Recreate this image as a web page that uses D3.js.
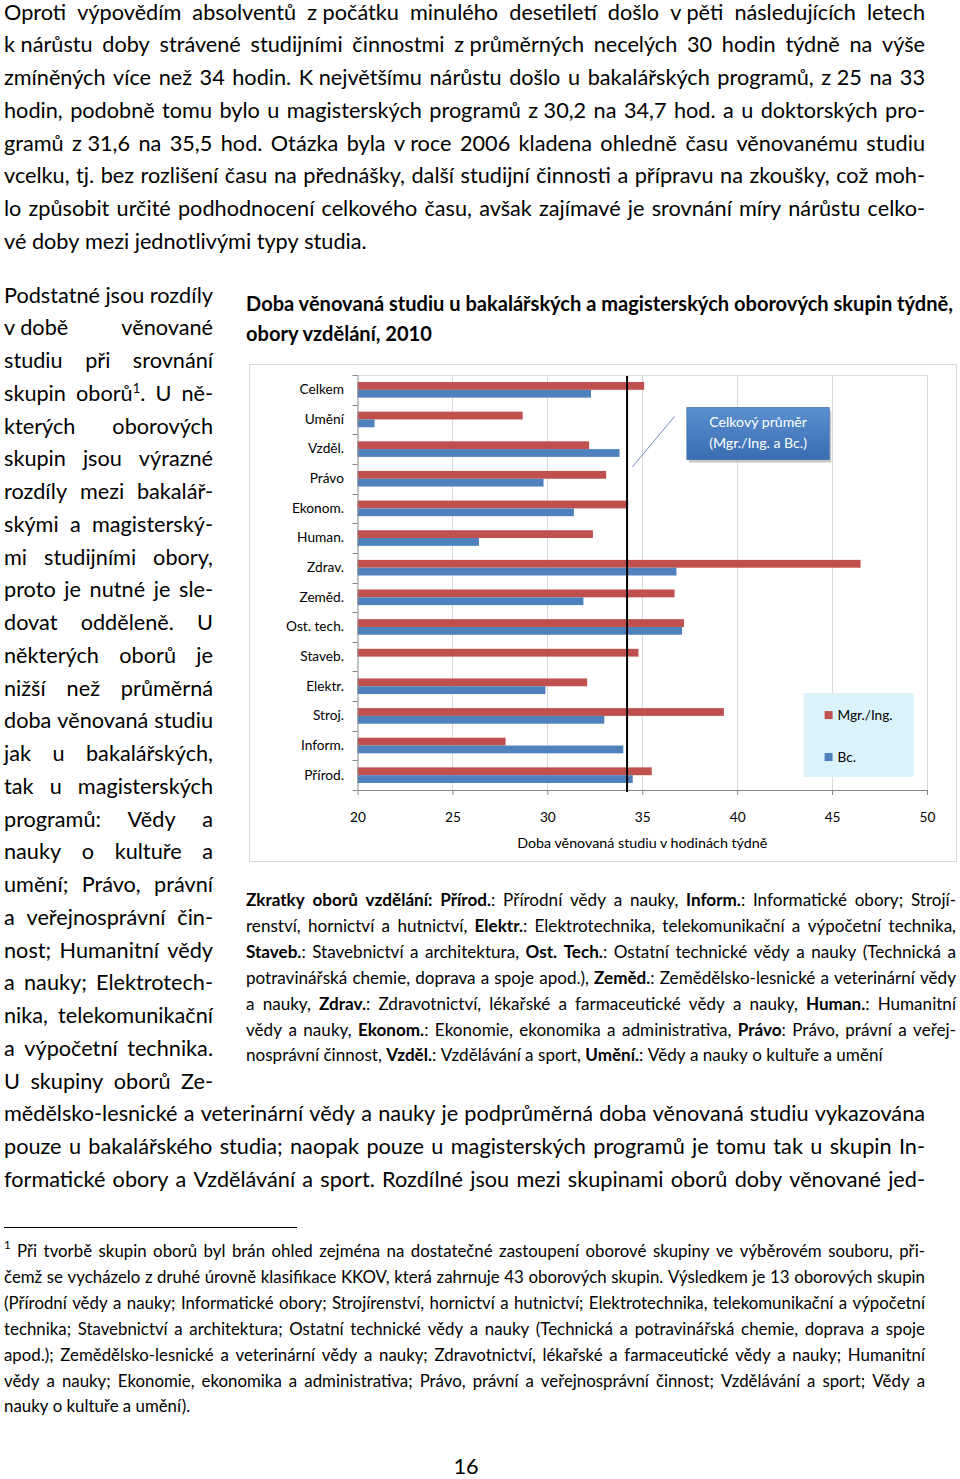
<!DOCTYPE html>
<html><head><meta charset="utf-8">
<script src="https://cdn.jsdelivr.net/npm/d3@7"></script>
<style>
html,body{margin:0;padding:0;background:#fff;}
svg{display:block;}
</style></head><body>
<svg id="page" width="960" height="1479"></svg>
<script>
// ---------------- DATA ----------------
const categories = ["Celkem","Umění","Vzděl.","Právo","Ekonom.","Human.","Zdrav.","Zeměd.","Ost. tech.","Staveb.","Elektr.","Stroj.","Inform.","Přírod."];
const mgrValues  = [35.1, 28.7, 32.2, 33.1, 34.2, 32.4, 46.5, 36.7, 37.2, 34.8, 32.1, 39.3, 27.8, 35.5];
const bcValues   = [32.3, 20.9, 33.8, 29.8, 31.4, 26.4, 36.8, 31.9, 37.1, null, 29.9, 33.0, 34.0, 34.5];
const overallMean = 34.2;
const seriesNames = ["Mgr./Ing.", "Bc."];
const xTicks = [20, 25, 30, 35, 40, 45, 50];
const chartTitle = ["Doba věnovaná studiu u bakalářských a magisterských oborových skupin týdně,", "obory vzdělání, 2010"];
const axisTitle = "Doba věnovaná studiu v hodinách týdně";
const calloutText = ["Celkový průměr", "(Mgr./Ing. a Bc.)"];

const para1 = [
 "Oproti výpovědím absolventů z počátku minulého desetiletí došlo v pěti následujících letech",
 "k nárůstu doby strávené studijními činnostmi z průměrných necelých 30 hodin týdně na výše",
 "zmíněných více než 34 hodin. K největšímu nárůstu došlo u bakalářských programů, z 25 na 33",
 "hodin, podobně tomu bylo u magisterských programů z 30,2 na 34,7 hod. a u doktorských pro-",
 "gramů z 31,6 na 35,5 hod. Otázka byla v roce 2006 kladena ohledně času věnovanému studiu",
 "vcelku, tj. bez rozlišení času na přednášky, další studijní činnosti a přípravu na zkoušky, což moh-",
 "lo způsobit určité podhodnocení celkového času, avšak zajímavé je srovnání míry nárůstu celko-",
 "vé doby mezi jednotlivými typy studia."
];
const leftColumn = [
 "Podstatné jsou rozdíly", "v době věnované", "studiu při srovnání", "skupin oborů^{1}. U ně-",
 "kterých oborových", "skupin jsou výrazné", "rozdíly mezi bakalář-", "skými a magisterský-",
 "mi studijními obory,", "proto je nutné je sle-", "dovat odděleně. U", "některých oborů je",
 "nižší než průměrná", "doba věnovaná studiu", "jak u bakalářských,", "tak u magisterských",
 "programů: Vědy a", "nauky o kultuře a", "umění; Právo, právní", "a veřejnosprávní čin-",
 "nost; Humanitní vědy", "a nauky; Elektrotech-", "nika, telekomunikační", "a výpočetní technika.",
 "U skupiny oborů Ze-"
];
const para2 = [
 "mědělsko-lesnické a veterinární vědy a nauky je podprůměrná doba věnovaná studiu vykazována",
 "pouze u bakalářského studia; naopak pouze u magisterských programů je tomu tak u skupin In-",
 "formatické obory a Vzdělávání a sport. Rozdílné jsou mezi skupinami oborů doby věnované jed-"
];
const abbreviations = [
 "**Zkratky oborů vzdělání: Přírod.**: Přírodní vědy a nauky, **Inform.**: Informatické obory; Strojí-",
 "renství, hornictví a hutnictví, **Elektr.**: Elektrotechnika, telekomunikační a výpočetní technika,",
 "**Staveb.**: Stavebnictví a architektura, **Ost. Tech.**: Ostatní technické vědy a nauky (Technická a",
 "potravinářská chemie, doprava a spoje apod.), **Zeměd.**: Zemědělsko-lesnické a veterinární vědy",
 "a nauky, **Zdrav.**: Zdravotnictví, lékařské a farmaceutické vědy a nauky, **Human.**: Humanitní",
 "vědy a nauky, **Ekonom.**: Ekonomie, ekonomika a administrativa, **Právo**: Právo, právní a veřej-",
 "nosprávní činnost, **Vzděl.**: Vzdělávání a sport, **Umění.**: Vědy a nauky o kultuře a umění"
];
const footnote = [
 "Při tvorbě skupin oborů byl brán ohled zejména na dostatečné zastoupení oborové skupiny ve výběrovém souboru, při-",
 "čemž se vycházelo z druhé úrovně klasifikace KKOV, která zahrnuje 43 oborových skupin. Výsledkem je 13 oborových skupin",
 "(Přírodní vědy a nauky; Informatické obory; Strojírenství, hornictví a hutnictví; Elektrotechnika, telekomunikační a výpočetní",
 "technika; Stavebnictví a architektura; Ostatní technické vědy a nauky (Technická a potravinářská chemie, doprava a spoje",
 "apod.); Zemědělsko-lesnické a veterinární vědy a nauky; Zdravotnictví, lékařské a farmaceutické vědy a nauky; Humanitní",
 "vědy a nauky; Ekonomie, ekonomika a administrativa; Právo, právní a veřejnosprávní činnost; Vzdělávání a sport; Vědy a",
 "nauky o kultuře a umění)."
];
const footnoteMark = "1";
const pageNumber = "16";

// ---------------- TEXT HELPERS ----------------
const FONT = "Lato, 'Open Sans', sans-serif";
const svg = d3.select("#page");

function nb(line){ return line.replace(/(^|\s)([kzvsKZVS]) /g, "$1$2\u00a0"); }
function parse(line){
  line = nb(line);
  const pieces = []; let bold = false, buf = "", i = 0;
  while (i < line.length){
    if (line.startsWith("**", i)){ if (buf){pieces.push({t:buf,b:bold}); buf="";} bold=!bold; i+=2; continue; }
    if (line.startsWith("^{", i)){ if (buf){pieces.push({t:buf,b:bold}); buf="";} const j=line.indexOf("}", i); pieces.push({t:line.slice(i+2,j), b:bold, sup:true}); i=j+1; continue; }
    buf += line[i]; i++;
  }
  if (buf) pieces.push({t:buf,b:bold});
  const words = [[]];
  pieces.forEach(p => {
    p.t.split(" ").forEach((s,k) => { if (k>0) words.push([]); if (s) words[words.length-1].push({...p, t:s}); });
  });
  return words.filter(w => w.length);
}
function makeWord(g, pieces, size, weight){
  const t = g.append("text").attr("font-family", FONT).attr("font-size", size).attr("fill", "#000");
  pieces.forEach(p => {
    const ts = t.append("tspan").text(p.t).attr("font-weight", p.b ? 700 : weight);
    if (p.sup) ts.attr("font-size", size*0.6).attr("baseline-shift", "super");
  });
  return t;
}
function spaceWidth(size, weight){
  const g = svg.append("g");
  const a = g.append("text").attr("font-family",FONT).attr("font-size",size).attr("font-weight",weight).text("x x");
  const b = g.append("text").attr("font-family",FONT).attr("font-size",size).attr("font-weight",weight).text("xx");
  const w = a.node().getComputedTextLength() - b.node().getComputedTextLength();
  g.remove(); return w;
}
function naturalWidth(line, size, weight){
  const g = svg.append("g");
  const words = parse(line);
  const tot = d3.sum(words.map(w => makeWord(g, w, size, weight).node().getComputedTextLength()));
  g.remove();
  return tot + spaceWidth(size, weight)*(words.length-1);
}
function fitSize(line, target, weight){ return 20 * target / naturalWidth(line, 20, weight||400); }
// size: calibrated on the final line, but never so large that a justified line overflows
function blockSize(lines, o, calibrated){
  let s = calibrated;
  lines.forEach((l,i) => {
    const justify = o.justifyLast || i < lines.length - 1;
    if (!justify) return;
    const x0 = (i === 0 && o.firstX0 != null) ? o.firstX0 : o.x0;
    s = Math.min(s, fitSize(l, (o.x1 - x0)*0.995, o.weight));
  });
  return s;
}
function drawLine(g, line, x0, x1, y, size, justify, weight){
  weight = weight || 400;
  const words = parse(line);
  const nodes = words.map(w => makeWord(g, w, size, weight).attr("y", y));
  const widths = nodes.map(n => n.node().getComputedTextLength());
  const sp = spaceWidth(size, weight);
  const total = d3.sum(widths), n = words.length;
  let gap = sp, k = 1;
  if (justify && n > 1){
    gap = (x1 - x0 - total)/(n-1);
    if (gap < sp*0.7){ gap = sp*0.7; k = (x1 - x0 - gap*(n-1))/total; }
  }
  let x = x0;
  nodes.forEach((nd,i) => {
    nd.attr("x", x);
    if (k < 1) nd.attr("textLength", widths[i]*k).attr("lengthAdjust", "spacingAndGlyphs");
    x += widths[i]*k + gap;
  });
}
function drawBlock(lines, o){
  const g = svg.append("g");
  lines.forEach((line, i) => {
    const justify = o.justifyLast || i < lines.length - 1;
    const x0 = (i === 0 && o.firstX0 != null) ? o.firstX0 : o.x0;
    drawLine(g, line, x0, o.x1, o.y0 + i*o.dy, o.size, justify, o.weight);
  });
  return g;
}

// ---------------- BODY TEXT ----------------
const p1o = {x0:4, x1:925, y0:19.5, dy:32.75};
const bodySize = blockSize(para1, p1o, fitSize(para1[para1.length-1], 363));
drawBlock(para1, {...p1o, size:bodySize});
drawBlock(leftColumn, {x0:4, x1:213, y0:302.5, dy:32.75, size:bodySize, justifyLast:true});
drawBlock(para2, {x0:4, x1:925, y0:302.5 + 25*32.75, dy:32.75, size:bodySize, justifyLast:true});

// chart title
const titleSize = fitSize(chartTitle[0], 708, 700);
chartTitle.forEach((t,i) => svg.append("text").attr("x",246).attr("y",311 + i*30)
  .attr("font-family",FONT).attr("font-weight",700).attr("font-size",titleSize).text(t));

// abbreviations
const abo = {x0:246, x1:956, y0:906, dy:25.9};
const abbrSize = blockSize(abbreviations, abo, fitSize(abbreviations[abbreviations.length-1], 637));
drawBlock(abbreviations, {...abo, size:abbrSize});

// footnote
svg.append("line").attr("x1",4).attr("x2",297).attr("y1",1227.5).attr("y2",1227.5).attr("stroke","#000").attr("stroke-width",1);
const fno = {x0:4, firstX0:17, x1:925, y0:1257, dy:25.9};
const fnSize = blockSize(footnote, fno, fitSize(footnote[footnote.length-1], 193));
svg.append("text").attr("x",4).attr("y",1249).attr("font-family",FONT).attr("font-size",fnSize*0.68).text(footnoteMark);
drawBlock(footnote, {...fno, size:fnSize});

// page number
svg.append("text").attr("x",466).attr("y",1474).attr("text-anchor","middle")
  .attr("font-family",FONT).attr("font-size",bodySize).text(pageNumber);

// ---------------- CHART ----------------
const frame = {left:249.5, top:364.5, right:956.5, bottom:861.5};
const plot = {left:357.5, right:927, top:375, bottom:790};
const cg = svg.append("g").attr("class","chart");

cg.append("rect").attr("x",frame.left).attr("y",frame.top)
  .attr("width",frame.right-frame.left).attr("height",frame.bottom-frame.top)
  .attr("fill","#fff").attr("stroke","#d9d9d9").attr("stroke-width",1);

const x = d3.scaleLinear().domain([xTicks[0], xTicks[xTicks.length-1]]).range([plot.left, plot.right]);
const y0 = d3.scaleBand().domain(categories).range([plot.top, plot.bottom]);
const y1 = d3.scaleBand().domain(seriesNames).range([0, y0.bandwidth()]).paddingInner(0).paddingOuter(0.9);
const colors = d3.scaleOrdinal().domain(seriesNames).range(["#C0504D", "#4F81BD"]);

const labelSize = fitSize("Ost. tech.", 58);

// gridlines
cg.append("g").selectAll("line").data(xTicks.slice(1)).join("line")
  .attr("x1", d => Math.round(x(d))+0.5).attr("x2", d => Math.round(x(d))+0.5)
  .attr("y1", plot.top).attr("y2", plot.bottom)
  .attr("stroke", "#d9d9d9").attr("stroke-width", 1);
cg.append("line").attr("x1",plot.left).attr("x2",plot.right).attr("y1",plot.top+0.5).attr("y2",plot.top+0.5)
  .attr("stroke","#d9d9d9");

// bars
const rows = categories.map((c,i) => ({c, vals: [
  {s: seriesNames[0], v: mgrValues[i]}, {s: seriesNames[1], v: bcValues[i]}]}));
const rowG = cg.append("g").selectAll("g").data(rows).join("g")
  .attr("transform", d => `translate(0,${y0(d.c)})`);
rowG.selectAll("rect").data(d => d.vals.filter(v => v.v != null)).join("rect")
  .attr("x", x(xTicks[0])).attr("y", d => y1(d.s))
  .attr("width", d => x(d.v) - x(xTicks[0])).attr("height", y1.bandwidth())
  .attr("fill", d => colors(d.s));

// left axis
const axL = cg.append("g").attr("transform", `translate(${plot.left},0)`)
  .call(d3.axisLeft(y0).tickSize(0).tickPadding(13.5));
axL.select(".domain").attr("stroke","#868686");
axL.selectAll("text").attr("font-family",FONT).attr("font-size",labelSize).attr("fill","#000");
cg.append("g").selectAll("line").data(categories.map(c => y0(c)).concat([plot.bottom])).join("line")
  .attr("x1", plot.left-5).attr("x2", plot.left).attr("y1", d => Math.round(d)+0.5).attr("y2", d => Math.round(d)+0.5)
  .attr("stroke","#868686");

// bottom axis
const axB = cg.append("g").attr("transform", `translate(0,${plot.bottom})`)
  .call(d3.axisBottom(x).tickValues(xTicks).tickSize(5).tickPadding(17).tickSizeOuter(0));
axB.select(".domain").attr("stroke","#868686");
axB.selectAll(".tick line").attr("stroke","#868686");
axB.selectAll("text").attr("font-family",FONT).attr("font-size",labelSize).attr("fill","#000");

// axis title
const axisTitleSize = fitSize(axisTitle, 251);
cg.append("text").attr("x",(plot.left+plot.right)/2).attr("y",848).attr("text-anchor","middle")
  .attr("font-family",FONT).attr("font-size",axisTitleSize).text(axisTitle);

// mean line
cg.append("line").attr("x1",x(overallMean)).attr("x2",x(overallMean))
  .attr("y1",plot.top+1).attr("y2",plot.bottom+2).attr("stroke","#000").attr("stroke-width",2);

// callout (positioned in data space)
const defs = svg.append("defs");
const grad = defs.append("linearGradient").attr("id","cg").attr("x1",0).attr("x2",0).attr("y1",0).attr("y2",1);
grad.append("stop").attr("offset","0%").attr("stop-color","#5a8fd0");
grad.append("stop").attr("offset","100%").attr("stop-color","#3a6db0");
const cbx0 = x(37.35), cbx1 = x(44.85);
const cby0 = y0("Umění") + y0.bandwidth()*0.1, cby1 = y0("Vzděl.") + y0.bandwidth()*0.85;
cg.append("rect").attr("x",cbx0+2).attr("y",cby0+3).attr("width",cbx1-cbx0).attr("height",cby1-cby0)
  .attr("fill","#a0a0a0").attr("opacity",0.6);
cg.append("rect").attr("x",cbx0).attr("y",cby0).attr("width",cbx1-cbx0).attr("height",cby1-cby0)
  .attr("fill","url(#cg)").attr("stroke","#4472a8").attr("stroke-width",0.8);
const calloutSize = fitSize(calloutText[0], 98);
calloutText.forEach((t,i) => cg.append("text").attr("x",(cbx0+cbx1)/2).attr("y",cby0 + 19 + i*21)
  .attr("text-anchor","middle").attr("font-family",FONT).attr("font-size",calloutSize).attr("fill","#fff").text(t));
cg.append("line").attr("x1",x(34.48)).attr("y1",y0("Právo")+y0.bandwidth()*0.1)
  .attr("x2",x(36.7)).attr("y2",y0("Umění")+y0.bandwidth()*0.4)
  .attr("stroke","#6f8cba").attr("stroke-width",1);

// legend
const legX0 = x(43.5), legX1 = x(49.3);
const legY0 = y0("Elektr.") + y0.bandwidth()*0.73, legY1 = y0("Přírod.") + y0.bandwidth()*0.56;
cg.append("rect").attr("x",legX0).attr("y",legY0).attr("width",legX1-legX0).attr("height",legY1-legY0).attr("fill","#daf3fb");
const legSize = fitSize(seriesNames[0], 55);
seriesNames.forEach((s,i) => {
  const yy = legY0 + 22 + i*42;
  cg.append("rect").attr("x",legX0+21).attr("y",yy-4).attr("width",8).attr("height",8).attr("fill",colors(s));
  cg.append("text").attr("x",legX0+34).attr("y",yy+5).attr("font-family",FONT).attr("font-size",legSize).text(s);
});
</script>
</body></html>
